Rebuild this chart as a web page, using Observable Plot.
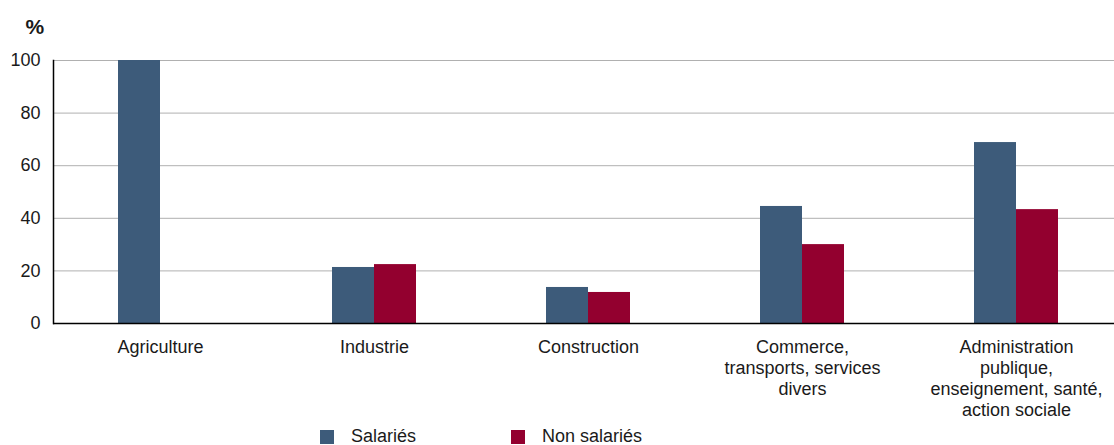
<!DOCTYPE html>
<html>
<head>
<meta charset="utf-8">
<script src="https://cdn.jsdelivr.net/npm/d3@7"></script>
<script src="https://cdn.jsdelivr.net/npm/@observablehq/plot@0.6"></script>
<style>
  body { margin: 0; background: #fff; font-family: "Liberation Sans", Arial, sans-serif; }
  #chart svg { display: block; overflow: visible; }
  .legend { position: relative; height: 20px; font-size: 18px; color: #1a1a1a; }
  .legend .item { position: absolute; top: 4px; display: flex; align-items: center; }
  .legend .sw { width: 14px; height: 14px; margin-right: 17px; }
  .legend .lab { line-height: 15px; }
</style>
</head>
<body>
<div id="chart"></div>
<div class="legend" id="legend"></div>
<script>
const categories = ["Agriculture", "Industrie", "Construction", "Commerce", "Administration"];
const categoryLabels = [
  "Agriculture",
  "Industrie",
  "Construction",
  "Commerce,\ntransports, services\ndivers",
  "Administration\npublique,\nenseignement, santé,\naction sociale"
];
const series = ["Salariés", "Non salariés"];
const salaries = [100, 21.3, 13.7, 44.5, 68.8];
const nonSalaries = [0, 22.4, 11.8, 30.0, 43.3];
const yTicks = [0, 20, 40, 60, 80, 100];
const colors = ["#3d5b7a", "#93002f"];

const data = [];
categories.forEach((c, i) => {
  data.push({cat: c, series: series[0], value: salaries[i]});
  data.push({cat: c, series: series[1], value: nonSalaries[i]});
});
const labelOf = new Map(categories.map((c, i) => [c, categoryLabels[i]]));

const chart = Plot.plot({
  width: 1114,
  height: 425,
  marginTop: 60,
  marginBottom: 102,
  marginLeft: 52,
  marginRight: -10.5,
  style: {fontFamily: "'Liberation Sans', Arial, sans-serif", color: "#1a1a1a", background: "white"},
  fx: {domain: categories, paddingInner: 0, paddingOuter: 0, label: null},
  x: {domain: series, paddingInner: 0, paddingOuter: 1.494, axis: null},
  y: {domain: [0, 100], label: null},
  color: {domain: series, range: colors},
  marks: [
    Plot.gridY(yTicks, {stroke: "#b0b0b0", strokeOpacity: 1, strokeWidth: 1}),
    Plot.barY(data, {fx: "cat", x: "series", y: "value", fill: "series"}),
    Plot.ruleY([0], {stroke: "#000", strokeWidth: 1.5}),
    Plot.frame({anchor: "left", facetAnchor: "left", stroke: "#000", strokeWidth: 1.5}),
    Plot.axisY(yTicks, {tickSize: 0, tickPadding: 13, fontSize: 18, label: null, fill: "#1a1a1a"}),
    Plot.axisFx({anchor: "bottom", tickSize: 0, tickPadding: 14, fontSize: 18, lineHeight: 1.18,
      label: null, fill: "#1a1a1a", tickFormat: d => labelOf.get(d)}),
    Plot.text(["%"], {frameAnchor: "top-left", facetAnchor: "left", dx: -28, dy: -41,
      fontSize: 21, fontWeight: "bold", fill: "#1a1a1a"})
  ]
});
document.getElementById("chart").appendChild(chart);

const legend = document.getElementById("legend");
const legendX = [320, 511];
series.forEach((s, i) => {
  const item = document.createElement("div");
  item.className = "item";
  item.style.left = legendX[i] + "px";
  item.innerHTML = `<span class="sw" style="background:${colors[i]}"></span><span class="lab">${s}</span>`;
  legend.appendChild(item);
});
</script>
</body>
</html>
